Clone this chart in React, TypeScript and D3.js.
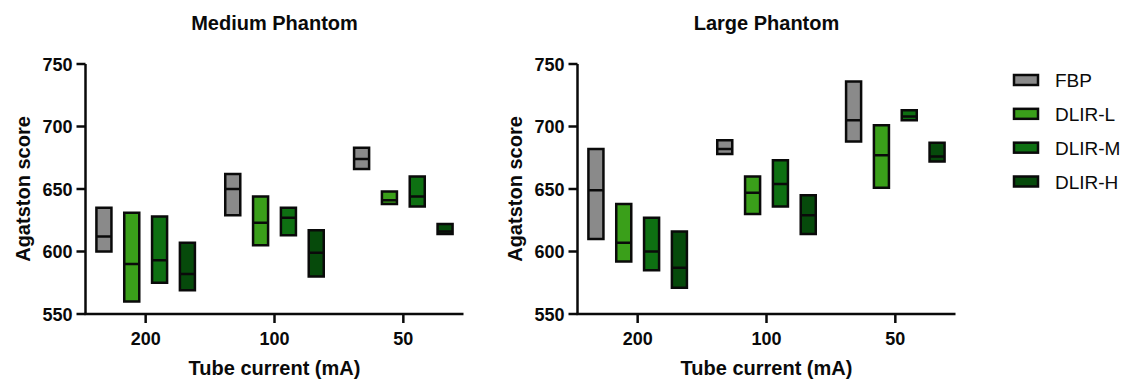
import React from 'react';
import * as d3 from 'd3';

const groups = ['200', '100', '50'];
const series = ['FBP', 'DLIR-L', 'DLIR-M', 'DLIR-H'];
const colors = ['#8a8a8a', '#3a9f1a', '#0e7012', '#064a0b'];
const yTicks = [550, 600, 650, 700, 750];

// floating bars: min / median / max per tube current
const mediumMin = [[600, 629, 666], [560, 605, 638], [575, 613, 636], [569, 580, 614]];
const mediumMed = [[612, 650, 674], [590, 623, 641], [593, 627, 644], [582, 599, 616]];
const mediumMax = [[635, 662, 683], [631, 644, 648], [628, 635, 660], [607, 617, 622]];

const largeMin = [[610, 678, 688], [592, 630, 651], [585, 636, 705], [571, 614, 672]];
const largeMed = [[649, 682, 705], [607, 647, 677], [600, 654, 708], [587, 629, 676]];
const largeMax = [[682, 689, 736], [638, 660, 701], [627, 673, 713], [616, 645, 687]];

const font = 'Liberation Sans, Arial, sans-serif';
const ink = '#0a0a0a';

const Panel = ({ title, left, mins, meds, maxs }) => {
  const right = left + 378;
  const y = d3.scaleLinear().domain([550, 750]).range([314, 64]);
  const x0 = d3.scalePoint().domain(groups).range([left, right]).padding(0.467);
  const x1 = d3.scaleBand().domain(series)
    .range([-x0.step() / 2, x0.step() / 2])
    .paddingInner(0.46).paddingOuter(0.545);
  const bw = x1.bandwidth();

  return (
    <g>
      <text x={(left + right) / 2} y={30} textAnchor="middle" fontSize={20}
        fontWeight="bold" fontFamily={font} fill={ink}>{title}</text>

      {series.map((s, si) => groups.map((g, gi) => {
        const cx = x0(g) + x1(s);
        return (
          <g key={s + g}>
            <rect x={cx} y={y(maxs[si][gi])} width={bw}
              height={y(mins[si][gi]) - y(maxs[si][gi])}
              fill={colors[si]} stroke={ink} strokeWidth={2.5} />
            <line x1={cx} x2={cx + bw} y1={y(meds[si][gi])} y2={y(meds[si][gi])}
              stroke={ink} strokeWidth={2.5} />
          </g>
        );
      }))}

      <line x1={left} x2={left} y1={y(750)} y2={y(550) + 1} stroke={ink} strokeWidth={2.5} />
      {yTicks.map(t => (
        <g key={t}>
          <line x1={left - 9} x2={left} y1={y(t)} y2={y(t)} stroke={ink} strokeWidth={2.5} />
          <text x={left - 13} y={y(t) + 6.5} textAnchor="end" fontSize={18}
            fontWeight="bold" fontFamily={font} fill={ink}>{t}</text>
        </g>
      ))}
      <text transform={`translate(${left - 56},${y(650)}) rotate(-90)`} textAnchor="middle"
        fontSize={20} fontWeight="bold" fontFamily={font} fill={ink}>Agatston score</text>

      <line x1={left - 1} x2={right} y1={y(550)} y2={y(550)} stroke={ink} strokeWidth={2.5} />
      {groups.map(g => (
        <g key={g}>
          <line x1={x0(g)} x2={x0(g)} y1={y(550)} y2={y(550) + 9} stroke={ink} strokeWidth={2.5} />
          <text x={x0(g)} y={345} textAnchor="middle" fontSize={18}
            fontWeight="bold" fontFamily={font} fill={ink}>{g}</text>
        </g>
      ))}
      <text x={(left + right) / 2} y={375} textAnchor="middle" fontSize={20}
        fontWeight="bold" fontFamily={font} fill={ink}>Tube current (mA)</text>
    </g>
  );
};

const App = () => {
  const legendY = d3.scalePoint().domain(series).range([80, 181.5]);
  return (
    <svg width={1127} height={379}
      style={{ position: 'absolute', left: 0, top: 0, background: '#fff' }}>
      <Panel title="Medium Phantom" left={85.5} mins={mediumMin} meds={mediumMed} maxs={mediumMax} />
      <Panel title="Large Phantom" left={577.5} mins={largeMin} meds={largeMed} maxs={largeMax} />
      {series.map((s, i) => (
        <g key={s}>
          <rect x={1014} y={legendY(s) - 5} width={24} height={10}
            fill={colors[i]} stroke={ink} strokeWidth={2.5} />
          <text x={1055} y={legendY(s) + 7} fontSize={19} fontFamily={font} fill={ink}>{s}</text>
        </g>
      ))}
    </svg>
  );
};

export default App;
